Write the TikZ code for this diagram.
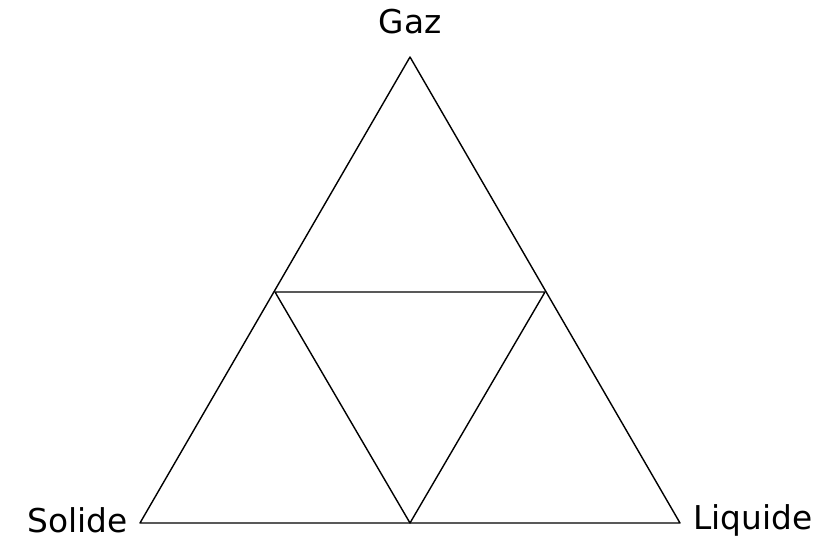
\documentclass[tikz,border=0pt]{standalone}
\usepackage{fontspec}
\setmainfont{DejaVu Sans}
\begin{document}
\begin{tikzpicture}[x=0.03cm, y=-0.03cm, line join=round, line cap=round, font=\fontsize{28}{32}\selectfont]
	\useasboundingbox (0,0) rectangle (822,542);
	\path (410,57)coordinate(G)(140,523)coordinate(S)(680,523)coordinate(L)
		(275,292)coordinate(GS)(545,292)coordinate(GL)(410,523)coordinate(SL);
	\draw[line width=1.2pt](G)--(S)--(L)--cycle;
	\draw[line width=1.2pt](GS)--(GL)--(SL)--cycle;
	\node (gaz) at (410,22) {Gaz};
	\node[anchor=east,inner sep=0pt] (solide) at (128,520) {Solide};
	\node[anchor=west,inner sep=0pt] (liquide) at (693,520) {Liquide};
\end{tikzpicture}
\end{document}
